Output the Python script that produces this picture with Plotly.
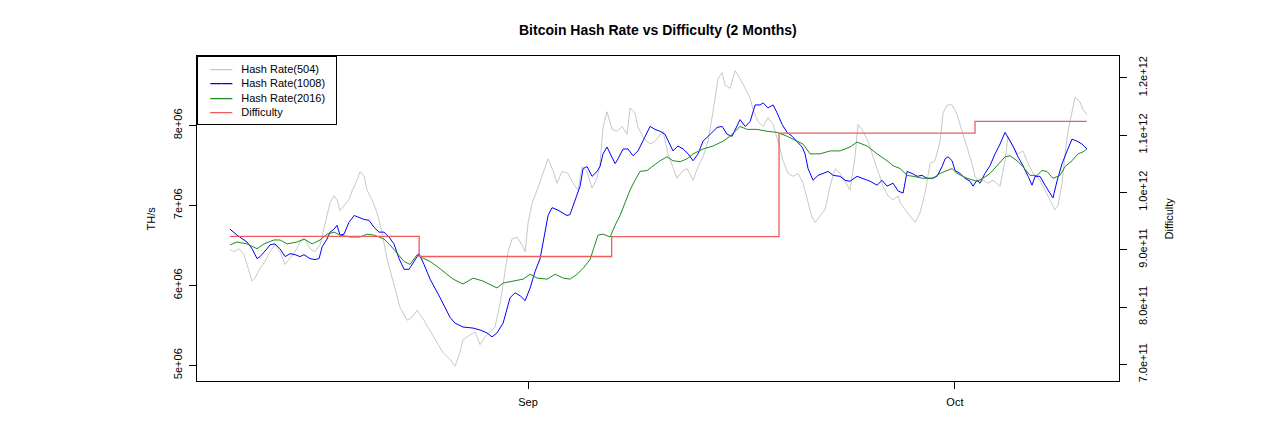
import numpy as np
import pandas as pd
import plotly.graph_objects as go

# ---- data (time = days since 2017-08-11 00:00, hash rate in millions of TH/s) ----
hr504_days = [0.06, 0.34, 0.69, 1.04, 1.25, 1.61, 1.82, 2.17, 2.52, 2.87,
              3.22, 3.57, 3.93, 4.28, 4.63, 4.98, 5.33, 5.68, 6.03, 6.39,
              6.74, 7.09, 7.37, 7.58, 7.79, 8.07, 8.42, 8.63, 8.99, 9.20,
              9.48, 9.69, 10.04, 10.39, 10.74, 11.09, 11.58, 12.01, 12.50, 12.85,
              13.20, 13.69, 14.12, 14.61, 15.03, 15.52, 15.87, 16.22, 16.43, 16.93,
              17.28, 17.63, 17.98, 18.33, 18.68, 19.04, 19.39, 19.60, 19.88, 20.23,
              20.58, 20.80, 21.01, 21.29, 21.64, 22.06, 22.41, 22.76, 23.04, 23.39,
              23.81, 24.16, 24.52, 24.80, 25.15, 25.50, 25.85, 26.06, 26.27, 26.55,
              26.91, 27.26, 27.61, 27.96, 28.17, 28.52, 28.73, 29.09, 29.58, 29.93,
              30.49, 30.84, 31.19, 31.47, 31.83, 32.18, 32.60, 32.95, 33.30, 33.65,
              34.00, 34.36, 34.64, 34.85, 35.20, 35.55, 35.90, 36.26, 36.61, 36.82,
              37.17, 37.52, 37.87, 38.22, 38.57, 38.92, 39.28, 39.63, 39.98, 40.33,
              40.61, 40.96, 41.17, 41.52, 41.87, 42.23, 42.58, 42.93, 43.28, 43.63,
              43.98, 44.19, 44.54, 44.90, 45.25, 45.60, 45.95, 46.30, 46.65, 47.01,
              47.15, 47.50, 47.85, 48.20, 48.55, 48.90, 49.25, 49.60, 49.96, 50.17,
              50.45, 50.80, 51.15, 51.50, 51.85, 52.20, 52.41, 52.76, 52.97, 53.33,
              53.68, 54.17, 54.52, 54.73, 55.08, 55.43, 55.78, 56.14, 56.49, 56.98,
              57.33, 57.68, 58.03, 58.24, 58.53, 58.74, 58.95, 59.23, 59.44, 59.79,
              60.00, 60.28]
hr504_vals = [6.446, 6.421, 6.458, 6.384, 6.262, 6.054, 6.091, 6.213, 6.299, 6.421,
              6.507, 6.421, 6.262, 6.335, 6.421, 6.543, 6.580, 6.458, 6.421, 6.507,
              6.752, 7.033, 7.119, 7.070, 6.935, 6.996, 7.070, 7.180, 7.315, 7.425,
              7.364, 7.192, 7.070, 6.911, 6.666, 6.335, 6.017, 5.723, 5.564, 5.601,
              5.687, 5.564, 5.430, 5.283, 5.160, 5.075, 4.989, 5.160, 5.319, 5.381,
              5.417, 5.258, 5.356, 5.417, 5.479, 5.772, 6.176, 6.421, 6.580, 6.605,
              6.507, 6.421, 6.788, 7.033, 7.192, 7.400, 7.584, 7.437, 7.278, 7.425,
              7.400, 7.278, 7.192, 7.486, 7.425, 7.217, 7.339, 7.523, 7.976, 8.171,
              7.951, 7.927, 7.988, 7.890, 8.220, 8.159, 7.976, 7.853, 7.767, 7.804,
              7.927, 7.645, 7.461, 7.339, 7.425, 7.461, 7.315, 7.486, 7.608, 7.804,
              8.171, 8.588, 8.661, 8.502, 8.465, 8.685, 8.588, 8.465, 8.343, 8.196,
              8.049, 7.988, 8.098, 8.012, 7.804, 7.559, 7.400, 7.364, 7.400, 7.278,
              7.070, 6.849, 6.788, 6.874, 6.947, 7.241, 7.461, 7.400, 7.302, 7.192,
              7.608, 8.012, 7.927, 7.804, 7.608, 7.437, 7.241, 7.119, 7.070, 7.119,
              7.033, 6.947, 6.874, 6.788, 6.911, 7.155, 7.523, 7.559, 7.804, 8.159,
              8.257, 8.257, 8.135, 7.927, 7.731, 7.523, 7.364, 7.278, 7.315, 7.278,
              7.315, 7.241, 7.559, 7.865, 7.731, 7.645, 7.682, 7.523, 7.400, 7.315,
              7.192, 7.070, 6.947, 6.996, 7.278, 7.645, 7.927, 8.171, 8.355, 8.294,
              8.196, 8.135]

hr1008_days = [0.06, 0.55, 1.25, 1.61, 1.96, 2.17, 2.66, 2.87, 3.22, 3.57,
               3.93, 4.28, 4.63, 4.98, 5.26, 5.68, 6.03, 6.32, 6.53, 6.88,
               7.09, 7.37, 7.58, 7.79, 8.07, 8.42, 8.78, 9.13, 9.48, 9.83,
               10.18, 10.53, 10.88, 11.23, 11.58, 11.94, 12.29, 12.64, 12.99, 13.34,
               13.69, 14.12, 14.82, 15.52, 15.87, 16.43, 17.14, 17.63, 18.12, 18.47,
               18.82, 19.25, 19.74, 20.09, 20.45, 20.80, 21.15, 21.50, 21.85, 22.20,
               22.41, 22.69, 23.04, 23.39, 23.74, 23.95, 24.16, 24.45, 24.66, 24.87,
               25.15, 25.50, 25.85, 26.06, 26.27, 26.55, 26.91, 27.12, 27.33, 27.68,
               28.03, 28.38, 28.73, 29.02, 29.37, 29.58, 29.93, 30.28, 30.63, 30.98,
               31.19, 31.54, 31.90, 32.25, 32.60, 32.95, 33.30, 33.80, 34.29, 34.64,
               34.99, 35.34, 35.90, 36.26, 36.61, 36.96, 37.31, 37.52, 37.87, 38.22,
               38.50, 38.86, 39.21, 39.56, 39.91, 40.26, 40.47, 40.68, 41.03, 41.38,
               41.73, 42.09, 42.44, 42.93, 43.28, 43.63, 44.12, 44.54, 45.04, 45.53,
               45.88, 46.23, 46.65, 47.01, 47.36, 47.64, 47.99, 48.34, 48.69, 49.04,
               49.39, 49.74, 50.10, 50.31, 50.52, 50.80, 51.01, 51.36, 51.71, 52.06,
               52.27, 52.55, 52.76, 53.11, 53.47, 53.82, 54.17, 54.52, 54.73, 55.08,
               55.43, 55.78, 56.14, 56.42, 56.63, 56.98, 57.33, 57.68, 57.89, 58.17,
               58.53, 58.88, 59.23, 59.58, 59.93, 60.28]
hr1008_vals = [6.703, 6.629, 6.543, 6.458, 6.335, 6.360, 6.458, 6.507, 6.519, 6.458,
               6.360, 6.397, 6.384, 6.360, 6.384, 6.335, 6.323, 6.335, 6.482, 6.580,
               6.666, 6.703, 6.752, 6.629, 6.641, 6.788, 6.874, 6.849, 6.825, 6.813,
               6.727, 6.666, 6.666, 6.605, 6.519, 6.335, 6.201, 6.201, 6.299, 6.397,
               6.262, 6.078, 5.846, 5.601, 5.528, 5.479, 5.466, 5.442, 5.405, 5.356,
               5.405, 5.528, 5.846, 5.907, 5.870, 5.809, 5.968, 6.176, 6.335, 6.666,
               6.874, 6.972, 6.947, 6.911, 6.874, 6.886, 6.996, 7.119, 7.241, 7.461,
               7.486, 7.364, 7.425, 7.486, 7.645, 7.731, 7.608, 7.523, 7.584, 7.706,
               7.706, 7.621, 7.682, 7.792, 7.914, 7.988, 7.951, 7.927, 7.890, 7.767,
               7.682, 7.743, 7.706, 7.645, 7.559, 7.645, 7.804, 7.890, 7.976, 7.988,
               7.890, 7.865, 8.073, 7.988, 8.049, 8.257, 8.257, 8.282, 8.220, 8.257,
               8.159, 8.012, 7.914, 7.865, 7.804, 7.731, 7.645, 7.461, 7.315, 7.376,
               7.400, 7.425, 7.376, 7.364, 7.315, 7.302, 7.364, 7.339, 7.302, 7.253,
               7.315, 7.241, 7.278, 7.180, 7.155, 7.425, 7.400, 7.364, 7.376, 7.339,
               7.339, 7.364, 7.486, 7.584, 7.608, 7.559, 7.437, 7.400, 7.339, 7.302,
               7.241, 7.315, 7.278, 7.400, 7.498, 7.645, 7.767, 7.914, 7.853, 7.743,
               7.608, 7.498, 7.364, 7.253, 7.364, 7.364, 7.253, 7.155, 7.094, 7.302,
               7.523, 7.682, 7.829, 7.804, 7.767, 7.706]

hr2016_days = [0.06, 0.55, 1.25, 1.96, 2.45, 3.15, 3.57, 4.07, 4.77, 5.26,
               5.83, 6.39, 6.88, 7.37, 7.79, 8.49, 9.20, 9.69, 10.18, 10.88,
               11.30, 11.80, 12.29, 12.71, 13.20, 13.69, 14.12, 14.61, 15.03, 15.74,
               16.43, 17.14, 17.84, 18.54, 18.82, 19.25, 19.95, 20.66, 21.15, 21.64,
               22.35, 22.91, 23.47, 23.95, 24.45, 24.87, 25.36, 25.71, 25.92, 26.27,
               26.77, 27.12, 27.47, 27.82, 28.17, 28.52, 28.87, 29.37, 29.79, 30.28,
               30.77, 31.19, 31.69, 32.18, 32.60, 33.30, 34.00, 34.71, 35.20, 35.90,
               36.40, 37.10, 37.80, 38.50, 39.21, 39.91, 40.33, 40.82, 41.52, 42.23,
               42.93, 43.63, 44.12, 44.83, 45.53, 46.23, 46.65, 47.15, 47.64, 48.06,
               48.76, 49.46, 49.96, 50.45, 50.80, 51.15, 51.85, 52.55, 52.97, 53.47,
               53.96, 54.52, 54.87, 55.36, 55.78, 56.28, 56.77, 57.12, 57.47, 57.89,
               58.39, 58.74, 59.23, 59.65, 60.00, 60.28]
hr2016_vals = [6.507, 6.543, 6.519, 6.458, 6.519, 6.568, 6.568, 6.519, 6.543, 6.580,
               6.519, 6.568, 6.641, 6.666, 6.629, 6.605, 6.605, 6.641, 6.629, 6.580,
               6.507, 6.397, 6.299, 6.262, 6.384, 6.335, 6.299, 6.237, 6.176, 6.078,
               6.017, 6.091, 6.054, 5.993, 5.968, 6.029, 6.054, 6.078, 6.140, 6.091,
               6.078, 6.140, 6.091, 6.078, 6.140, 6.213, 6.323, 6.507, 6.629, 6.641,
               6.605, 6.752, 6.874, 7.033, 7.192, 7.315, 7.425, 7.437, 7.498, 7.559,
               7.608, 7.559, 7.547, 7.584, 7.645, 7.706, 7.743, 7.804, 7.865, 7.988,
               7.951, 7.951, 7.927, 7.914, 7.865, 7.804, 7.767, 7.645, 7.645, 7.682,
               7.682, 7.731, 7.792, 7.743, 7.645, 7.559, 7.498, 7.461, 7.376, 7.364,
               7.339, 7.339, 7.400, 7.437, 7.461, 7.400, 7.339, 7.302, 7.339, 7.400,
               7.498, 7.608, 7.621, 7.559, 7.486, 7.376, 7.376, 7.437, 7.425, 7.339,
               7.376, 7.486, 7.559, 7.645, 7.670, 7.706]

diff_days = [0.06, 13.35, 26.88, 38.64, 52.41, 60.26]
diff_vals = [923233068449, 888171856257, 922724699726, 1103400932964,
             1123863285132, 1123863285132]

left_ticks = [5e6, 6e6, 7e6, 8e6]
left_labels = ["5e+06", "6e+06", "7e+06", "8e+06"]
right_ticks = [7.0e11, 8.0e11, 9.0e11, 1.0e12, 1.1e12, 1.2e12]
right_labels = ["7.0e+11", "8.0e+11", "9.0e+11", "1.0e+12", "1.1e+12", "1.2e+12"]
month_ticks = ["2017-09-01", "2017-10-01"]
month_labels = ["Sep", "Oct"]

BASE = pd.Timestamp("2017-08-11 00:00")


def to_dates(days):
    return BASE + pd.to_timedelta(np.asarray(days, dtype=float), unit="D")


FONT = "Liberation Sans, Arial, Helvetica, sans-serif"
C504, C1008, C2016, CDIFF = "#c8c8c8", "#0000ff", "#1e8c1e", "#ee5c5c"

fig = go.Figure()
fig.add_trace(go.Scatter(x=to_dates(hr504_days), y=np.array(hr504_vals) * 1e6,
                         mode="lines", line=dict(color=C504, width=1),
                         name="Hash Rate(504)"))
fig.add_trace(go.Scatter(x=to_dates(hr1008_days), y=np.array(hr1008_vals) * 1e6,
                         mode="lines", line=dict(color=C1008, width=1),
                         name="Hash Rate(1008)"))
fig.add_trace(go.Scatter(x=to_dates(hr2016_days), y=np.array(hr2016_vals) * 1e6,
                         mode="lines", line=dict(color=C2016, width=1),
                         name="Hash Rate(2016)"))
fig.add_trace(go.Scatter(x=to_dates(diff_days), y=diff_vals, yaxis="y2",
                         mode="lines", line=dict(color=CDIFF, width=1.3, shape="hv"),
                         name="Difficulty"))

xr = to_dates([-2.26, 62.53])
# the page body adds an 8px margin, so the figure is 1264x412
fig.update_layout(
    width=1264, height=412, autosize=False,
    margin=dict(l=189, r=153, t=48, b=32),
    paper_bgcolor="white", plot_bgcolor="white",
    showlegend=False,
    font=dict(family=FONT, size=11, color="black"),
    xaxis=dict(type="date", range=[xr[0], xr[1]], tickvals=month_ticks,
               ticktext=month_labels, ticks="outside", ticklen=7, tickwidth=1,
               tickcolor="black", showline=True, linecolor="black", linewidth=1,
               mirror=True, showgrid=False, zeroline=False, ticklabelstandoff=4),
    yaxis=dict(range=[4.804e6, 8.869e6], tickvals=left_ticks, ticktext=left_labels,
               tickangle=-90, ticks="outside", ticklen=7, tickwidth=1,
               tickcolor="black", showline=True, linecolor="black", linewidth=1,
               mirror=True, showgrid=False, zeroline=False, ticklabelstandoff=3),
    yaxis2=dict(range=[6.71e11, 1.238e12], tickvals=right_ticks, ticktext=right_labels,
                overlaying="y", side="right", tickangle=-90, ticks="outside",
                ticklen=7, tickwidth=1, tickcolor="black", showline=False,
                showgrid=False, zeroline=False, ticklabelstandoff=7),
)

fig.add_annotation(text="<b>Bitcoin Hash Rate vs Difficulty (2 Months)</b>",
                   xref="paper", yref="paper", x=0.5, y=1 + (56 - 29) / 332,
                   xanchor="center", yanchor="middle", showarrow=False,
                   font=dict(family=FONT, size=14, color="black"))
fig.add_annotation(text="TH/s", xref="paper", yref="paper", x=0, y=0.5,
                   xshift=-47, textangle=-90, showarrow=False,
                   xanchor="center", yanchor="middle",
                   font=dict(family=FONT, size=11, color="black"))
fig.add_annotation(text="Difficulty", xref="paper", yref="paper", x=1, y=0.5,
                   xshift=49, textangle=-90, showarrow=False,
                   xanchor="center", yanchor="middle",
                   font=dict(family=FONT, size=11, color="black"))

legend_rows = [("Hash Rate(504)", C504), ("Hash Rate(1008)", C1008),
               ("Hash Rate(2016)", C2016), ("Difficulty", CDIFF)]
legend_text = "<br>".join(
    f"&nbsp;&nbsp;<span style='color:{c}'><b>——</b></span>&nbsp;&nbsp;&nbsp;{t}"
    for t, c in legend_rows)
fig.add_annotation(text=legend_text, xref="paper", yref="paper", x=0, y=1,
                   xanchor="left", yanchor="top", align="left", showarrow=False,
                   width=126, bgcolor="white", bordercolor="black",
                   borderwidth=1, borderpad=6,
                   font=dict(family=FONT, size=11, color="black"))

fig.write_html("out.html")
